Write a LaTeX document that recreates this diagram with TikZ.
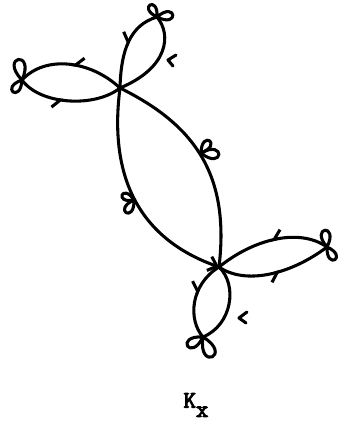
\documentclass[tikz,border=0pt]{standalone}
\usepackage{fontspec}
\usepackage{tikz}
\usetikzlibrary{arrows.meta, decorations.markings}
\newfontfamily\labelfont{Latin Modern Mono}[FakeBold=4]
\newcommand{\petal}[3]{\draw[curve] (#1) .. controls +({#2+34}:{1.6*#3}) and +({#2-34}:{1.6*#3}) .. (#1);}

\begin{document}
\begin{tikzpicture}[
    x=0.75pt, y=-0.75pt,
    curve/.style={line width=2.3pt, line cap=round, line join=round},
    barb/.style={postaction={decorate}, decoration={markings,
        mark=at position #1 with {\arrow{Straight Barb[harpoon, swap, length=6pt, width=12pt, line width=2.3pt]}}}},
    arrow/.style={-{Straight Barb[length=6pt, width=11pt, line width=2.3pt]}}
]
\useasboundingbox (0,0) rectangle (343,426);

\coordinate (top) at (120,88);
\coordinate (bot) at (219,267);
\coordinate (lefttip) at (22,80);
\coordinate (toptip) at (157,17);
\coordinate (righttip) at (327,247);
\coordinate (bottip) at (203,337);
\coordinate (midleft) at (134,200);
\coordinate (midright) at (201,153);
\coordinate (topmark) at (168,60);
\coordinate (botmark) at (239,318);

\draw[curve, barb=0.5] (top) .. controls (90,60) and (45,55) .. (lefttip);
\draw[curve, barb=0.45] (lefttip) .. controls (40,105) and (95,108) .. (top);
\draw[curve, barb=0.5] (toptip) .. controls (130,25) and (121,50) .. (top);
\draw[curve] (top) .. controls (168,68) and (172,35) .. (toptip);

\draw[curve, arrow] (top) .. controls (110,165) and (130,235) .. (bot);
\draw[curve] (top) .. controls (195,125) and (230,175) .. (bot);

\draw[curve, barb=0.5] (righttip) .. controls (300,228) and (255,238) .. (bot);
\draw[curve, barb=0.55] (bot) .. controls (245,285) and (290,275) .. (righttip);
\draw[curve, barb=0.45] (bot) .. controls (190,285) and (188,320) .. (bottip);
\draw[curve] (bottip) .. controls (232,325) and (238,285) .. (bot);

\petal{lefttip}{-100}{21}
\petal{lefttip}{127}{15}
\petal{toptip}{-120}{14}
\petal{toptip}{-7}{16}
\petal{righttip}{-97}{17}
\petal{righttip}{58}{15}
\petal{bottip}{150}{18}
\petal{bottip}{65}{22}
\petal{midleft}{-157}{13}
\petal{midleft}{122}{15}
\petal{midright}{-55}{15}
\petal{midright}{5}{18}

\draw[curve] (topmark) +(8,-5) -- (topmark) -- +(5,6);
\draw[curve] (botmark) +(8,-6) -- (botmark) -- +(7,5);

\node[font=\labelfont\fontsize{18}{18}\selectfont, inner sep=0pt] (kx) at (196,405) {K\raisebox{-0.9ex}{x}};
\end{tikzpicture}
\end{document}
